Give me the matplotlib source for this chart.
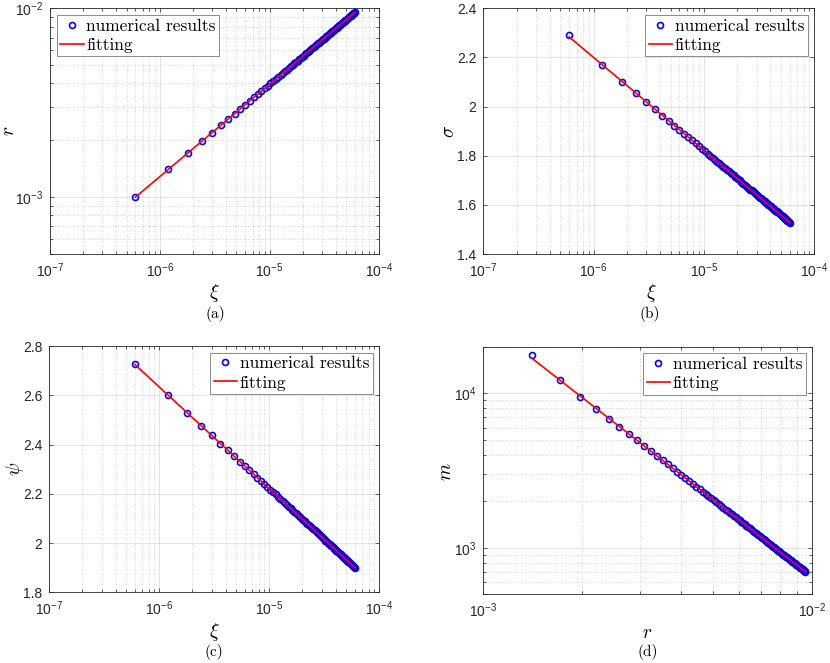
import numpy as np
import matplotlib
matplotlib.use("Agg")
import matplotlib.pyplot as plt
from matplotlib.ticker import FixedLocator, NullFormatter, FuncFormatter, LogLocator

plt.rcParams['font.family'] = ['Liberation Sans', 'DejaVu Sans']
plt.rcParams['mathtext.fontset'] = 'cm'

# ---------------- data ----------------
xi_e6 = [0.6, 1.2, 1.8, 2.4, 3.0, 3.6, 4.2, 4.8, 5.4, 6.0, 6.6, 7.2, 7.8, 8.4, 9.0, 9.6,
         10.2, 10.8, 11.4, 12.0, 12.6, 13.2, 13.8, 14.4, 15.0, 15.6, 16.2, 16.8, 17.4, 18.0,
         18.6, 19.2, 19.8, 20.4, 21.0, 21.6, 22.2, 22.8, 23.4, 24.0, 24.6, 25.2, 25.8, 26.4,
         27.0, 27.6, 28.2, 28.8, 29.4, 30.0, 30.6, 31.2, 31.8, 32.4, 33.0, 33.6, 34.2, 34.8,
         35.4, 36.0, 36.6, 37.2, 37.8, 38.4, 39.0, 39.6, 40.2, 40.8, 41.4, 42.0, 42.6, 43.2,
         43.8, 44.4, 45.0, 45.6, 46.2, 46.8, 47.4, 48.0, 48.6, 49.2, 49.8, 50.4, 51.0, 51.6,
         52.2, 52.8, 53.4, 54.0, 54.6, 55.2, 55.8, 56.4, 57.0, 57.6, 58.2, 58.8, 59.4, 60.0]

r_e3 = [1.000, 1.404, 1.712, 1.971, 2.199, 2.404, 2.592, 2.767, 2.932, 3.087, 3.234, 3.375,
        3.510, 3.639, 3.764, 3.885, 4.002, 4.116, 4.226, 4.334, 4.438, 4.541, 4.640, 4.738,
        4.834, 4.928, 5.019, 5.110, 5.198, 5.285, 5.371, 5.455, 5.537, 5.619, 5.699, 5.778,
        5.856, 5.933, 6.009, 6.084, 6.158, 6.231, 6.304, 6.375, 6.445, 6.515, 6.584, 6.652,
        6.720, 6.787, 6.853, 6.918, 6.983, 7.047, 7.111, 7.174, 7.236, 7.298, 7.359, 7.420,
        7.480, 7.540, 7.599, 7.658, 7.717, 7.774, 7.832, 7.889, 7.945, 8.002, 8.057, 8.113,
        8.168, 8.222, 8.277, 8.330, 8.384, 8.437, 8.490, 8.542, 8.594, 8.646, 8.698, 8.749,
        8.800, 8.850, 8.900, 8.950, 9.000, 9.049, 9.098, 9.147, 9.196, 9.244, 9.292, 9.340,
        9.387, 9.434, 9.481, 9.528]

sigma = [2.293, 2.168, 2.102, 2.055, 2.018, 1.989, 1.963, 1.942, 1.922, 1.905, 1.889, 1.875,
         1.862, 1.850, 1.839, 1.828, 1.818, 1.809, 1.800, 1.792, 1.784, 1.776, 1.769, 1.762,
         1.755, 1.749, 1.742, 1.736, 1.731, 1.725, 1.720, 1.715, 1.710, 1.705, 1.700, 1.695,
         1.691, 1.686, 1.682, 1.678, 1.674, 1.670, 1.666, 1.662, 1.659, 1.655, 1.652, 1.648,
         1.645, 1.642, 1.638, 1.635, 1.632, 1.629, 1.626, 1.623, 1.620, 1.617, 1.614, 1.612,
         1.609, 1.606, 1.604, 1.601, 1.599, 1.596, 1.594, 1.591, 1.589, 1.586, 1.584, 1.582,
         1.580, 1.577, 1.575, 1.573, 1.571, 1.569, 1.567, 1.565, 1.563, 1.561, 1.559, 1.557,
         1.555, 1.553, 1.551, 1.549, 1.547, 1.545, 1.544, 1.542, 1.540, 1.538, 1.536, 1.535,
         1.533, 1.531, 1.530, 1.528]

psi = [2.725, 2.601, 2.528, 2.477, 2.437, 2.404, 2.376, 2.352, 2.331, 2.313, 2.295, 2.280,
       2.266, 2.252, 2.240, 2.228, 2.217, 2.207, 2.198, 2.188, 2.180, 2.171, 2.163, 2.156,
       2.148, 2.141, 2.135, 2.128, 2.122, 2.116, 2.110, 2.104, 2.099, 2.093, 2.088, 2.083,
       2.078, 2.073, 2.069, 2.064, 2.060, 2.055, 2.051, 2.047, 2.043, 2.039, 2.035, 2.032,
       2.028, 2.024, 2.021, 2.017, 2.014, 2.010, 2.007, 2.004, 2.001, 1.998, 1.995, 1.992,
       1.989, 1.986, 1.983, 1.980, 1.977, 1.975, 1.972, 1.969, 1.967, 1.964, 1.961, 1.959,
       1.956, 1.954, 1.952, 1.949, 1.947, 1.945, 1.942, 1.940, 1.938, 1.936, 1.933, 1.931,
       1.929, 1.927, 1.925, 1.923, 1.921, 1.919, 1.917, 1.915, 1.913, 1.911, 1.909, 1.907,
       1.905, 1.904, 1.902, 1.900]

# m for the points 2..100 (first point lies outside panel (d))
m_vals = [17660, 12120, 9450, 7880, 6780, 6079, 5453, 4956, 4549, 4209, 3922, 3675, 3461,
          3272, 3104, 2955, 2821, 2700, 2590, 2489, 2397, 2311, 2233, 2160, 2092, 2029, 1969,
          1914, 1863, 1813, 1768, 1724, 1682, 1643, 1606, 1571, 1537, 1505, 1474, 1445, 1417,
          1391, 1364, 1340, 1316, 1293, 1272, 1250, 1230, 1210, 1191, 1173, 1155, 1138, 1122,
          1106, 1090, 1075, 1061, 1046, 1033, 1019, 1006, 993.8, 981.5, 969.4, 957.9, 946.7,
          935.6, 924.7, 914.6, 904.3, 894.4, 884.6, 875.2, 865.8, 856.9, 848.0, 839.5, 831.1,
          822.9, 814.6, 806.8, 799.2, 791.5, 784.2, 776.9, 769.7, 762.8, 756.0, 749.2, 742.7,
          736.2, 730.0, 723.8, 717.6, 711.7, 706.0, 700.1]

legend_labels = ['numerical results', 'fitting']
captions = ['(a)', '(b)', '(c)', '(d)']

xi = np.array(xi_e6) * 1e-6
r = np.array(r_e3) * 1e-3
sig = np.array(sigma)
ps = np.array(psi)
m = np.array(m_vals)
r_d = r[1:]

# ---------------- style ----------------
W, H = 830, 663
AX_COL = '#262626'
fig = plt.figure(figsize=(W / 100, H / 100), dpi=100)


def add_ax(x0, y0, x1, y1):
    return fig.add_axes([x0 / W, 1 - y1 / H, (x1 - x0) / W, (y1 - y0) / H])


def log_fmt(v, pos):
    e = int(round(np.log10(v)))
    return r'$\mathregular{10^{%d}}$' % e


def lin_fmt(v, pos):
    return '%g' % round(v, 3)


def style(ax, xlog, ylog):
    for s in ax.spines.values():
        s.set_color(AX_COL)
        s.set_linewidth(0.6)
    ax.tick_params(which='both', direction='in', top=True, right=True,
                   colors=AX_COL, width=0.5, labelsize=10)
    ax.tick_params(which='major', length=3.0, pad=5)
    ax.tick_params(which='minor', length=2.0)
    ax.grid(True, which='major', color=AX_COL, alpha=0.15, linewidth=0.6, linestyle='-')
    if xlog:
        ax.xaxis.set_major_formatter(FuncFormatter(log_fmt))
        ax.xaxis.set_minor_formatter(NullFormatter())
        ax.grid(True, which='minor', axis='x', color=AX_COL, alpha=0.25,
                linewidth=0.6, linestyle=(0, (1, 2)))
    if ylog:
        ax.yaxis.set_major_formatter(FuncFormatter(log_fmt))
        ax.yaxis.set_minor_formatter(NullFormatter())
        ax.grid(True, which='minor', axis='y', color=AX_COL, alpha=0.25,
                linewidth=0.6, linestyle=(0, (1, 2)))
    else:
        ax.yaxis.set_major_formatter(FuncFormatter(lin_fmt))
        ax.yaxis.set_minor_locator(FixedLocator([]))
    ax.set_axisbelow(True)


def draw(ax, x, y, fx, fy, loc):
    ax.plot(x, y, 'o', ls='none', mfc='none', mec='#0000ff', ms=4.3, mew=1.2,
            label=legend_labels[0], zorder=3)
    ax.plot(fx, fy, '-', color='#ff0000', lw=1.2, label=legend_labels[1], zorder=4)
    leg = ax.legend(loc=loc, prop={'family': 'cmr10', 'size': 12.5}, frameon=True,
                    fancybox=False, framealpha=1, edgecolor='#8c8c8c',
                    borderpad=0.2, borderaxespad=0.38, handlelength=1.35,
                    handletextpad=0.15, labelspacing=0.22)
    leg.get_frame().set_linewidth(0.7)


# (a) r vs xi, log-log
axa = add_ax(50, 8.3, 379.3, 254)
pa = np.polyfit(np.log10(xi), np.log10(r), 1)
draw(axa, xi, r, xi, 10 ** np.polyval(pa, np.log10(xi)), 'upper left')
axa.set_xscale('log'); axa.set_yscale('log')
axa.set_xlim(1e-7, 1e-4); axa.set_ylim(5e-4, 1e-2)
axa.xaxis.set_major_locator(FixedLocator([1e-7, 1e-6, 1e-5, 1e-4]))
axa.yaxis.set_major_locator(FixedLocator([1e-3, 1e-2]))
axa.xaxis.set_minor_locator(LogLocator(base=10, subs=np.arange(2, 10)))
axa.yaxis.set_minor_locator(LogLocator(base=10, subs=np.arange(2, 10)))
style(axa, True, True)

# (b) sigma vs xi, semilogx
axb = add_ax(483.3, 8.3, 814.3, 254)
pb = np.polyfit(np.log10(xi), sig, 1)
draw(axb, xi, sig, xi, np.polyval(pb, np.log10(xi)), 'upper right')
axb.set_xscale('log')
axb.set_xlim(1e-7, 1e-4); axb.set_ylim(1.4, 2.4)
axb.xaxis.set_major_locator(FixedLocator([1e-7, 1e-6, 1e-5, 1e-4]))
axb.xaxis.set_minor_locator(LogLocator(base=10, subs=np.arange(2, 10)))
axb.yaxis.set_major_locator(FixedLocator([1.4, 1.6, 1.8, 2.0, 2.2, 2.4]))
style(axb, True, False)

# (c) psi vs xi, semilogx
axc = add_ax(49.3, 346, 379.3, 592.3)
pc = np.polyfit(np.log10(xi), ps, 1)
draw(axc, xi, ps, xi, np.polyval(pc, np.log10(xi)), 'upper right')
axc.set_xscale('log')
axc.set_xlim(1e-7, 1e-4); axc.set_ylim(1.8, 2.8)
axc.xaxis.set_major_locator(FixedLocator([1e-7, 1e-6, 1e-5, 1e-4]))
axc.xaxis.set_minor_locator(LogLocator(base=10, subs=np.arange(2, 10)))
axc.yaxis.set_major_locator(FixedLocator([1.8, 2.0, 2.2, 2.4, 2.6, 2.8]))
style(axc, True, False)

# (d) m vs r, log-log
axd = add_ax(483.3, 346.7, 812.3, 594.3)
pd_ = np.polyfit(np.log10(r_d), np.log10(m), 1)
draw(axd, r_d, m, r_d, 10 ** np.polyval(pd_, np.log10(r_d)), 'upper right')
axd.set_xscale('log'); axd.set_yscale('log')
axd.set_xlim(1e-3, 1e-2); axd.set_ylim(500, 2e4)
axd.xaxis.set_major_locator(FixedLocator([1e-3, 1e-2]))
axd.yaxis.set_major_locator(FixedLocator([1e3, 1e4]))
axd.xaxis.set_minor_locator(LogLocator(base=10, subs=np.arange(2, 10)))
axd.yaxis.set_minor_locator(LogLocator(base=10, subs=np.arange(2, 10)))
style(axd, True, True)


def ftext(x, y, s, **kw):
    fig.text(x / W, 1 - y / H, s, ha='center', va='center', color='black', **kw)


# axis labels
ftext(214, 293, r'$\xi$', fontsize=14)
ftext(651, 293, r'$\xi$', fontsize=14)
ftext(214, 631.7, r'$\xi$', fontsize=14)
ftext(647, 633, r'$r$', fontsize=14)
ftext(9, 131, r'$r$', fontsize=14, rotation=90)
ftext(449.5, 131.5, r'$\sigma$', fontsize=14, rotation=90)
ftext(15, 469, r'$\psi$', fontsize=14, rotation=90)
ftext(446, 471.5, r'$m$', fontsize=14, rotation=90)

# captions
ftext(215, 313.5, captions[0], fontsize=11, family='cmr10')
ftext(650, 313.5, captions[1], fontsize=11, family='cmr10')
ftext(214, 651.7, captions[2], fontsize=11, family='cmr10')
ftext(648, 651.7, captions[3], fontsize=11, family='cmr10')

fig.savefig('out.png', dpi=100)
